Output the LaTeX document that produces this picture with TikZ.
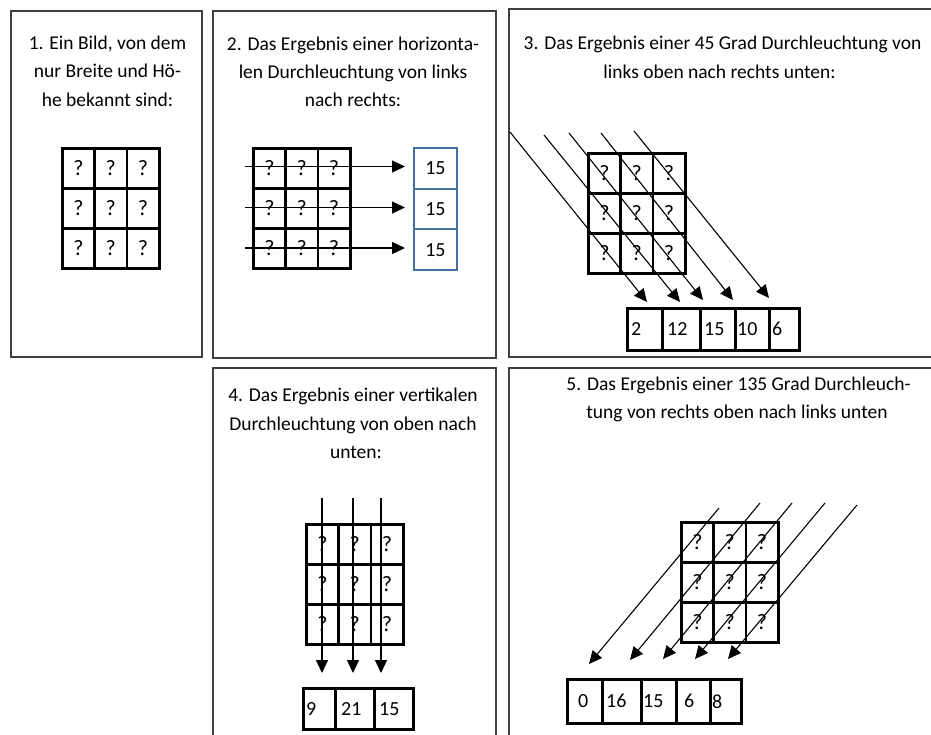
\documentclass[tikz,border=0pt]{standalone}
\usepackage{fontspec}
\setmainfont{Carlito}
\usetikzlibrary{arrows.meta}
\definecolor{framegray}{RGB}{64,64,64}
\definecolor{boxblue}{RGB}{65,113,156}
\newcommand\qgrid[3]{%
  \foreach \r in {0,1,2}{\foreach \c in {0,1,2}{%
    \node[qcell] (#1-\r-\c) at ({#2+\c*32.3},{#3+\r*40}) {?};}}}
\begin{document}
\begin{tikzpicture}[x=1pt,y=-1pt,
  panel/.style={draw=framegray, line width=1.5pt},
  title/.style={anchor=base, inner sep=0pt, font=\fontsize{19.5}{28.5}\selectfont},
  qcell/.style={draw, line width=2.6pt, minimum width=32.3pt, minimum height=40pt,
    inner sep=0pt, anchor=north west, font=\fontsize{22}{22}\selectfont},
  rcell/.style={draw, line width=2.6pt, inner sep=0pt, anchor=north west},
  bcell/.style={draw=boxblue, line width=1.8pt, inner sep=0pt, anchor=north west,
    minimum width=43pt, minimum height=40.7pt, font=\fontsize{20}{20}\selectfont},
  num/.style={inner sep=0pt, anchor=west, font=\fontsize{20}{20}\selectfont},
  ray/.style={line width=1.1pt, -{Triangle[length=13pt,width=12pt]}}]
\clip (0,0) rectangle (931,734);
\fill[white] (0,0) rectangle (931,734);
% ---------------- frames
\draw[panel] (11,11) rectangle (202,357);
\draw[panel] (213,11) rectangle (496,358);
\draw[panel] (509,9) rectangle (945,357);
\draw[panel] (213,368) rectangle (496,750);
\draw[panel] (509,368) rectangle (945,750);
% ---------------- titles
\node[title] (t1a) at (107.5,49) {1. Ein Bild, von dem};
\node[title] (t1b) at (107.5,77.5) {nur Breite und Hö-};
\node[title] (t1c) at (107.5,106) {he bekannt sind:};
\node[title] (t2a) at (353,50) {2. Das Ergebnis einer horizonta-};
\node[title] (t2b) at (353,78) {len Durchleuchtung von links};
\node[title] (t2c) at (353,106) {nach rechts:};
\node[title] (t3a) at (722.5,49) {3. Das Ergebnis einer 45 Grad Durchleuchtung von};
\node[title] (t3b) at (719.5,78) {links oben nach rechts unten:};
\node[title] (t4a) at (353,401.5) {4. Das Ergebnis einer vertikalen};
\node[title] (t4b) at (353,430) {Durchleuchtung von oben nach};
\node[title] (t4c) at (356,458) {unten:};
\node[title] (t5a) at (738.5,390) {5. Das Ergebnis einer 135 Grad Durchleuch-};
\node[title] (t5b) at (737,418.5) {tung von rechts oben nach links unten};
% ---------------- grids
\qgrid{p1}{61}{147}
\qgrid{p2}{252}{147}
\qgrid{p3}{587}{152}
\qgrid{p4}{305}{523}
\qgrid{p5}{680}{521}
% ---------------- panel 2: horizontal rays
\node[bcell] (b1) at (413,147) {15};
\node[bcell] (b2) at (413,187.7) {15};
\node[bcell] (b3) at (413,228.4) {15};
\coordinate (h1s) at (245,166.5); \coordinate (h1e) at (405,166.5);
\coordinate (h2s) at (245,207.5); \coordinate (h2e) at (405,207.5);
\coordinate (h3s) at (245,248);   \coordinate (h3e) at (405,248);
\draw[ray] (h1s) -- (h1e);
\draw[ray] (h2s) -- (h2e);
\draw[ray] (h3s) -- (h3e);
% ---------------- panel 3: 45 degree rays
\node[rcell, minimum width=35pt, minimum height=42pt] (r3a) at (626,307) {};
\node[rcell, minimum width=38pt, minimum height=42pt] (r3b) at (661,307) {};
\node[rcell, minimum width=35pt, minimum height=42pt] (r3c) at (699,307) {};
\node[rcell, minimum width=34pt, minimum height=42pt] (r3d) at (734,307) {};
\node[rcell, minimum width=30pt, minimum height=42pt] (r3e) at (768,307) {};
\node[num] (n3a) at ([xshift=5pt]r3a.west) {2};
\node[num] (n3b) at ([xshift=6pt]r3b.west) {12};
\node[num] (n3c) at ([xshift=5pt]r3c.west) {15};
\node[num] (n3d) at ([xshift=3pt]r3d.west) {10};
\node[num] (n3e) at ([xshift=4pt]r3e.west) {6};
\coordinate (d1s) at (510,132); \coordinate (d1e) at (647,302);
\coordinate (d2s) at (544,135); \coordinate (d2e) at (680,302);
\coordinate (d3s) at (569,133); \coordinate (d3e) at (703,300);
\coordinate (d4s) at (601,133); \coordinate (d4e) at (733,300);
\coordinate (d5s) at (634,131); \coordinate (d5e) at (769,298);
\foreach \k in {1,...,5}{\draw[ray] (d\k s) -- (d\k e);}
% ---------------- panel 4: vertical rays
\node[rcell, minimum width=32pt, minimum height=41pt] (r4a) at (302,687) {};
\node[rcell, minimum width=39pt, minimum height=41pt] (r4b) at (334,687) {};
\node[rcell, minimum width=39pt, minimum height=41pt] (r4c) at (373,687) {};
\node[num] (n4a) at ([xshift=4pt]r4a.west) {9};
\node[num] (n4b) at ([xshift=7pt]r4b.west) {21};
\node[num] (n4c) at ([xshift=6pt]r4c.west) {15};
\coordinate (v1s) at (322,498); \coordinate (v1e) at (322,673);
\coordinate (v2s) at (353,498); \coordinate (v2e) at (353,673);
\coordinate (v3s) at (381,498); \coordinate (v3e) at (381,673);
\foreach \k in {1,2,3}{\draw[ray] (v\k s) -- (v\k e);}
% ---------------- panel 5: 135 degree rays
\node[rcell, minimum width=35pt, minimum height=44pt] (r5a) at (566,678) {};
\node[rcell, minimum width=39pt, minimum height=44pt] (r5b) at (601,678) {};
\node[rcell, minimum width=35pt, minimum height=44pt] (r5c) at (640,678) {};
\node[rcell, minimum width=34pt, minimum height=44pt] (r5d) at (675,678) {};
\node[rcell, minimum width=31pt, minimum height=44pt] (r5e) at (709,678) {};
\node[num] (n5a) at ([xshift=12pt]r5a.west) {0};
\node[num] (n5b) at ([xshift=5pt]r5b.west) {16};
\node[num] (n5c) at ([xshift=3pt]r5c.west) {15};
\node[num] (n5d) at ([xshift=9pt]r5d.west) {6};
\node[num] (n5e) at ([xshift=3pt]r5e.west) {8};
\coordinate (a1s) at (719,508); \coordinate (a1e) at (589,664);
\coordinate (a2s) at (760,503); \coordinate (a2e) at (630,660);
\coordinate (a3s) at (792,503); \coordinate (a3e) at (663,659);
\coordinate (a4s) at (825,503); \coordinate (a4e) at (695,659);
\coordinate (a5s) at (857,505); \coordinate (a5e) at (728,659);
\foreach \k in {1,...,5}{\draw[ray] (a\k s) -- (a\k e);}
\end{tikzpicture}
\end{document}
